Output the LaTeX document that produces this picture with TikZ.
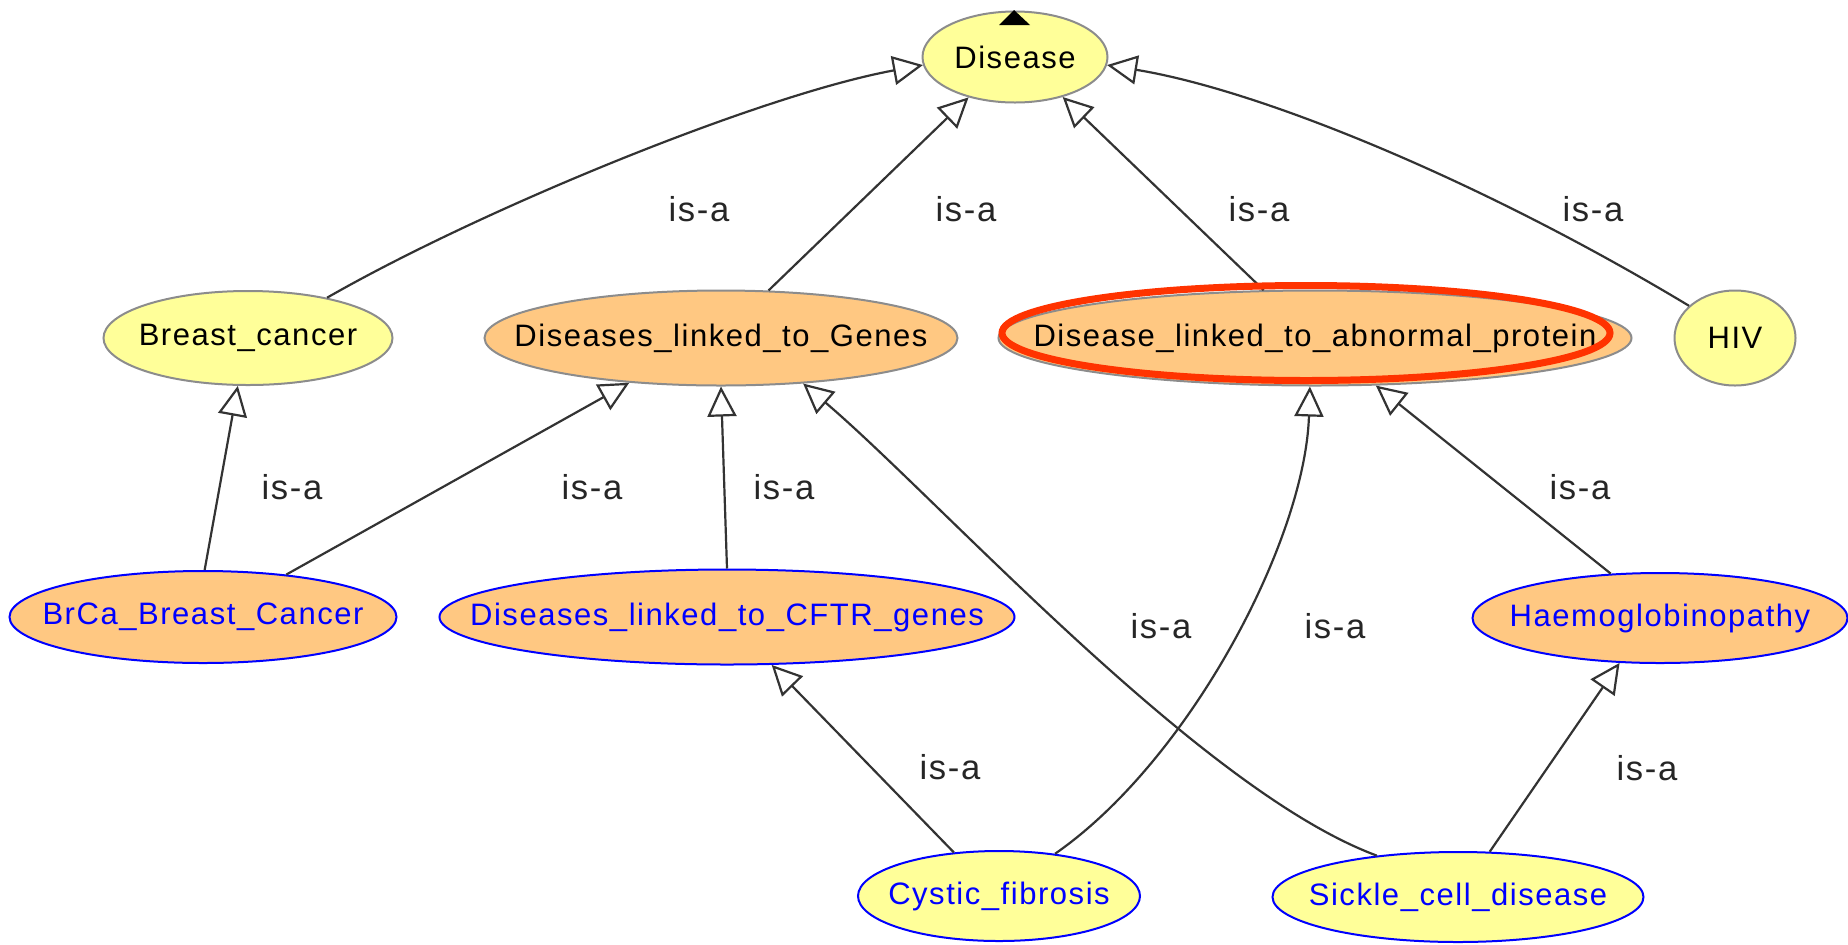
\documentclass[tikz,border=0pt]{standalone}
\usepackage{fontspec}
\setmainfont{Liberation Sans}[LetterSpace=5]
\usepackage{tikz}
\usetikzlibrary{shapes.geometric,arrows.meta}
\definecolor{lightyellow}{HTML}{FFFF99}
\definecolor{lightorange}{HTML}{FFC882}
\definecolor{markred}{HTML}{FF3300}
\newcommand{\cname}[1]{\makebox[0pt]{#1}}

\begin{document}
\begin{tikzpicture}[x=0.5pt, y=-0.5pt,
    concept/.style={ellipse, draw=black!45, line width=1pt, inner sep=0pt,
      font=\fontsize{15.5}{18}\selectfont},
    yel/.style={concept, fill=lightyellow},
    org/.style={concept, fill=lightorange},
    inferred/.style={draw=blue, text=blue},
    isa/.style={draw=black!80, line width=1.1pt,
      -{Triangle[open, length=15pt, width=14.5pt]}},
    lab/.style={font=\fontsize{17.3}{20}\selectfont, text=black!85}]

      \useasboundingbox (0,0) rectangle (1848,944);

      \node[yel, minimum width=92.5pt, minimum height=45.5pt] (dis) at (1015,57) {\cname{Disease}};
      \node[yel, minimum width=144.5pt, minimum height=47pt] (bc) at (248,338) {\cname{Breast\_cancer}};
      \node[org, minimum width=236.5pt, minimum height=47.5pt] (genes) at (721,338) {\cname{Diseases\_linked\_to\_Genes}};
      \node[org, minimum width=316.5pt, minimum height=47.5pt] (abn) at (1315,338) {\cname{Disease\_linked\_to\_abnormal\_protein}};
      \node[yel, minimum width=60.5pt, minimum height=47.5pt] (hiv) at (1735,338) {\cname{HIV}};

      \node[org, inferred, minimum width=193.5pt, minimum height=46pt] (brca) at (203,617) {\cname{BrCa\_Breast\_Cancer}};
      \node[org, inferred, minimum width=287.5pt, minimum height=47.5pt] (cftr) at (727,617) {\cname{Diseases\_linked\_to\_CFTR\_genes}};
      \node[org, inferred, minimum width=187.5pt, minimum height=45pt] (haemo) at (1660,618) {\cname{Haemoglobinopathy}};

      \node[yel, inferred, minimum width=141pt, minimum height=45pt] (cystic) at (999,896) {\cname{Cystic\_fibrosis}};
      \node[yel, inferred, minimum width=185.5pt, minimum height=45pt] (sickle) at (1458,897) {\cname{Sickle\_cell\_disease}};

      % is-a links
      \draw[isa] (bc.27) .. controls (480,210) and (760,95) .. (dis.185);
      \draw[isa] (genes.45) -- (dis.221);
      \draw[isa] (abn.137) -- (dis.320);
      \draw[isa] (hiv.145) .. controls (1480,180) and (1260,90) .. (dis.355);

      \draw[isa] (brca.88) -- (bc.258);
      \draw[isa] (brca.27) -- (genes.206);
      \draw[isa] (cftr.north) -- (genes.south);
      \draw[isa] (sickle.153) .. controls (1200,790) and (940,500) .. (genes.331);
      \draw[isa] (cystic.37) .. controls (1190,760) and (1305,540) .. (abn.264);
      \draw[isa] (haemo.138) -- (abn.322);

      \draw[isa] (cystic.136) -- (cftr.313);
      \draw[isa] (sickle.55) -- (haemo.228);

      \node[lab] (l1) at (699,209) {is-a};
      \node[lab] (l2) at (966,209) {is-a};
      \node[lab] (l3) at (1259,209) {is-a};
      \node[lab] (l4) at (1593,209) {is-a};
      \node[lab] (l5) at (292,487) {is-a};
      \node[lab] (l6) at (592,487) {is-a};
      \node[lab] (l7) at (784,487) {is-a};
      \node[lab] (l8) at (1161,626) {is-a};
      \node[lab] (l9) at (1335,626) {is-a};
      \node[lab] (l10) at (1580,487) {is-a};
      \node[lab] (l11) at (950,767) {is-a};
      \node[lab] (l12) at (1647,768) {is-a};

      % highlight ring and the tip above Disease
      \draw[markred, line width=3.5pt] (1306,333) ellipse [x radius=152pt, y radius=23.75pt];
      \fill (999,25) -- (1030,25) -- (1014,10) -- cycle;
    \end{tikzpicture}
\end{document}
